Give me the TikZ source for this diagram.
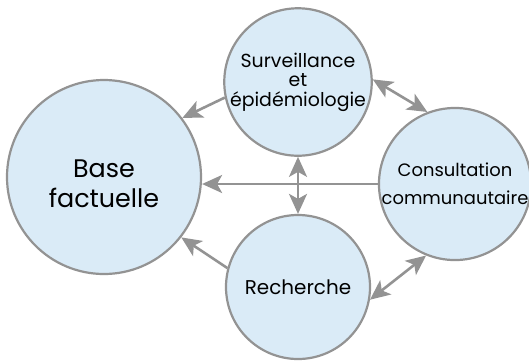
\documentclass[tikz,border=0pt]{standalone}
\usepackage{fontspec}
\setmainfont{Poppins}
\usetikzlibrary{arrows.meta}

\definecolor{bleubulle}{HTML}{DAEBF7}
\definecolor{grisfleche}{HTML}{939393}

\tikzset{
  bulle/.style={circle, draw=grisfleche, line width=2.2bp, fill=bleubulle,
    align=center, inner sep=0pt, minimum size=144bp},
  pointe/.tip={Stealth[length=20bp,width=18bp,inset=5bp]},
  fleche/.style={draw=grisfleche, line width=2.6bp, -pointe},
  dfleche/.style={draw=grisfleche, line width=2.6bp, pointe-pointe}
}

\begin{document}
\begin{tikzpicture}[x=1bp, y=-1bp]
	\useasboundingbox (0,0) rectangle (529,360);
	% les quatre bulles
	\node[bulle, minimum size=194bp, text height=62bp, font=\fontsize{25.5}{31}\selectfont] (base) at (104,177) {Base\\factuelle};
	\node[bulle, font=\fontsize{19}{19.5}\selectfont] (surv) at (298,82) {Surveillance\\et\\épidémiologie};
	\node[bulle, font=\fontsize{18}{28}\selectfont] (cons) at (455,184) {Consultation\\communautaire};
	\node[bulle, font=\fontsize{20}{24}\selectfont] (rech) at (298,287) {Recherche};
	% vers la base factuelle
	\draw[fleche] (surv.192) -- (base.37);
	\draw[fleche] (rech.165) -- (base.-38);
	\draw[fleche] (cons.west) -- (cons.west -| base.east);
	% echanges
	\draw[dfleche] (surv.south) -- (rech.north);
	\draw[dfleche] (surv.2) -- (cons.111);
	\draw[dfleche] (rech.-10) -- (cons.248);
\end{tikzpicture}
\end{document}
